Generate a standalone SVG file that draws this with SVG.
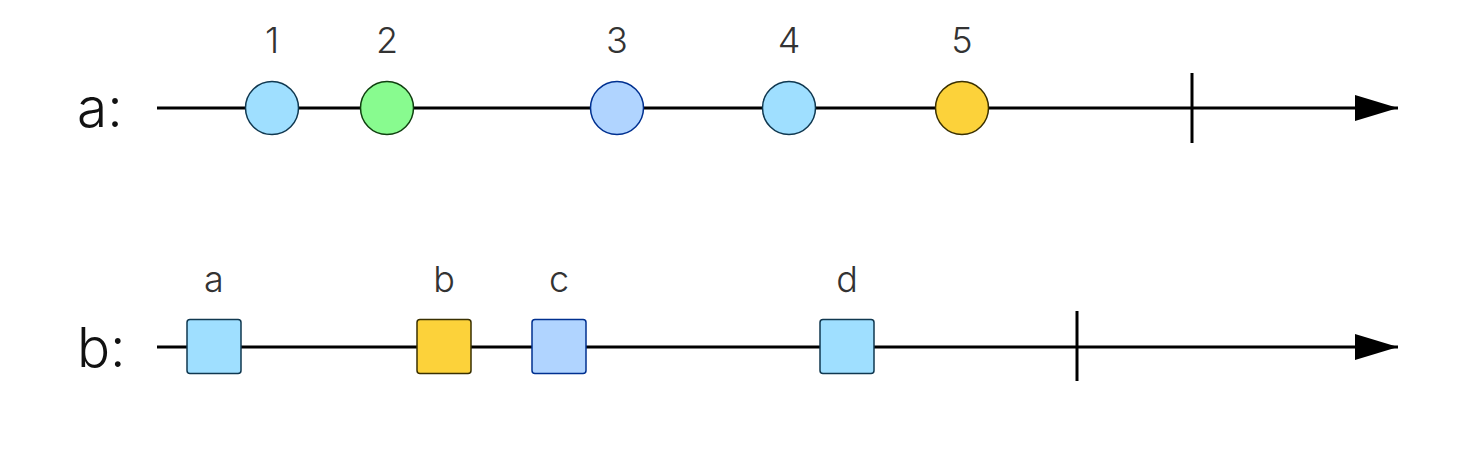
<svg xmlns="http://www.w3.org/2000/svg" width="1484" height="454" viewBox="0 0 1484 454">
<style>
.axis{stroke:#000;stroke-width:3;fill:none}
.tick{stroke:#000;stroke-width:3}
.lbl{font-family:Inter,"Liberation Sans",sans-serif;font-size:36px;font-weight:300;fill:#333;text-anchor:middle}
.name{font-family:Inter,"Liberation Sans",sans-serif;font-size:55px;font-weight:300;fill:#111}
.blue{fill:#9fdfff;stroke:#103850;stroke-width:1.5}
.green{fill:#88fb8f;stroke:#104010;stroke-width:1.5}
.peri{fill:#b0d4ff;stroke:#003090;stroke-width:1.5}
.yellow{fill:#fcd23a;stroke:#3a3000;stroke-width:1.5}
</style>
<defs>
<marker id="arr" markerUnits="userSpaceOnUse" markerWidth="44" markerHeight="26" refX="43" refY="13" orient="auto">
<path d="M0,0 L43,13 L0,26 Z" fill="#000"/>
</marker>
</defs>
<g id="connectors">
<line class="axis" x1="157" y1="108" x2="1398" y2="108" marker-end="url(#arr)"/>
<line class="tick" x1="1192" y1="73" x2="1192" y2="143"/>
<line class="axis" x1="157" y1="347" x2="1398" y2="347" marker-end="url(#arr)"/>
<line class="tick" x1="1077" y1="311" x2="1077" y2="381"/>
</g>
<text class="name" x="77" y="127">a:</text>
<text class="name" x="77" y="367">b:</text>
<g id="n1"><circle class="blue" cx="272" cy="108" r="26.5"/><text class="lbl" x="272" y="53">1</text></g>
<g id="n2"><circle class="green" cx="387" cy="108" r="26.5"/><text class="lbl" x="387" y="53">2</text></g>
<g id="n3"><circle class="peri" cx="617" cy="108" r="26.5"/><text class="lbl" x="617" y="53">3</text></g>
<g id="n4"><circle class="blue" cx="789" cy="108" r="26.5"/><text class="lbl" x="789" y="53">4</text></g>
<g id="n5"><circle class="yellow" cx="962" cy="108" r="26.5"/><text class="lbl" x="962" y="53">5</text></g>
<g id="sa"><rect class="blue" x="187" y="319.5" width="54" height="54" rx="3"/><text class="lbl" x="214" y="292">a</text></g>
<g id="sb"><rect class="yellow" x="417" y="319.5" width="54" height="54" rx="3"/><text class="lbl" x="444" y="292">b</text></g>
<g id="sc"><rect class="peri" x="532" y="319.5" width="54" height="54" rx="3"/><text class="lbl" x="559" y="292">c</text></g>
<g id="sd"><rect class="blue" x="820" y="319.5" width="54" height="54" rx="3"/><text class="lbl" x="847" y="292">d</text></g>
</svg>
